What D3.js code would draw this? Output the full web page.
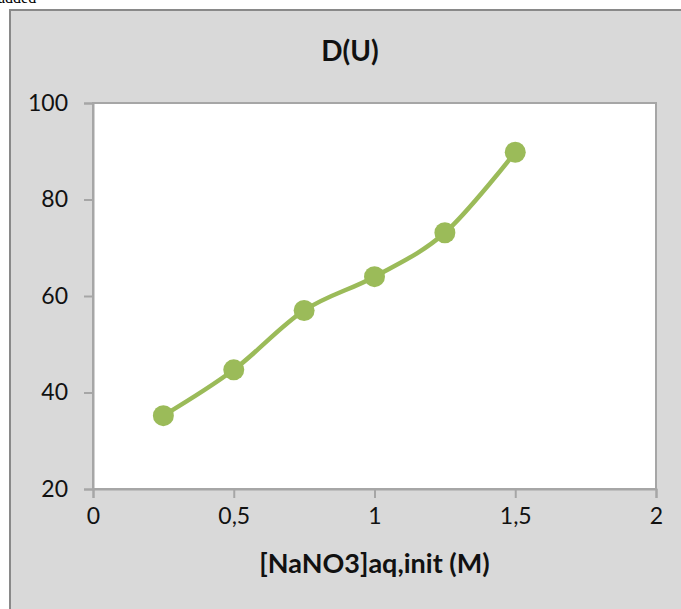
<!DOCTYPE html>
<html>
<head>
<meta charset="utf-8">
<script src="https://cdn.jsdelivr.net/npm/d3@7"></script>
<style>
  html, body { margin: 0; padding: 0; background: #ffffff; }
  svg { display: block; }
</style>
</head>
<body>
<svg id="chart" width="681" height="609"></svg>
<script>
const concentrations = [0.25, 0.5, 0.75, 1.0, 1.25, 1.5];
const dValues = [35.2, 44.7, 57.0, 64.0, 73.1, 89.8];
const xTicks = [0, 0.5, 1, 1.5, 2];
const yTicks = [20, 40, 60, 80, 100];
const chartTitle = "D(U)";
const xAxisTitle = "[NaNO3]aq,init (M)";

(function () {
const svg = d3.select("#chart");
const fmt = d => String(d).replace(".", ",");

// cut-off document text above the chart
svg.append("text").attr("x", -2).attr("y", 3)
  .attr("font-family", "Liberation Serif").attr("font-size", 16)
  .attr("fill", "#000").text("added");

// chart panel
svg.append("rect").attr("x", 10).attr("y", 10).attr("width", 690).attr("height", 620)
  .attr("fill", "#d9d9d9").attr("stroke", "#898989").attr("stroke-width", 2);

const pL = 93, pR = 656, pT = 103, pB = 489;
const x = d3.scaleLinear().domain([0, 2]).range([pL, pR]);
const y = d3.scaleLinear().domain([20, 100]).range([pB, pT]);

svg.append("rect").attr("x", pL).attr("y", pT)
  .attr("width", pR - pL).attr("height", pB - pT)
  .attr("fill", "#ffffff").attr("stroke", "#a6a6a6").attr("stroke-width", 2);

const font = "Lato, 'Open Sans', sans-serif";

const yAxis = svg.append("g").attr("transform", `translate(${pL},0)`)
  .call(d3.axisLeft(y).tickValues(yTicks).tickSize(9).tickPadding(16).tickFormat(d => d));
const xAxis = svg.append("g").attr("transform", `translate(0,${pB})`)
  .call(d3.axisBottom(x).tickValues(xTicks).tickSize(9).tickPadding(10).tickFormat(fmt));

[xAxis, yAxis].forEach(g => {
  g.select(".domain").attr("stroke", "#a6a6a6").attr("stroke-width", 2);
  g.selectAll(".tick line").attr("stroke", "#a6a6a6").attr("stroke-width", 2);
  g.selectAll(".tick text").attr("font-family", font).attr("font-size", 23).attr("fill", "#111");
});

const pts = concentrations.map((c, i) => [c, dValues[i]]);
const line = d3.line().x(d => x(d[0])).y(d => y(d[1])).curve(d3.curveCatmullRom.alpha(0));
svg.append("path").datum(pts).attr("d", line)
  .attr("fill", "none").attr("stroke", "#9bbb59").attr("stroke-width", 4.5)
  .attr("stroke-linecap", "round");

svg.append("g").selectAll("circle").data(pts).join("circle")
  .attr("cx", d => x(d[0])).attr("cy", d => y(d[1])).attr("r", 10.5)
  .attr("fill", "#9bbb59");

svg.append("text").attr("x", 350).attr("y", 61).attr("text-anchor", "middle")
  .attr("font-family", font).attr("font-weight", "bold").attr("font-size", 28)
  .attr("fill", "#111").text(chartTitle);

svg.append("text").attr("x", (pL + pR) / 2).attr("y", 573).attr("text-anchor", "middle")
  .attr("font-family", font).attr("font-weight", "bold").attr("font-size", 27)
  .attr("fill", "#111").text(xAxisTitle);
})();
</script>
</body>
</html>
